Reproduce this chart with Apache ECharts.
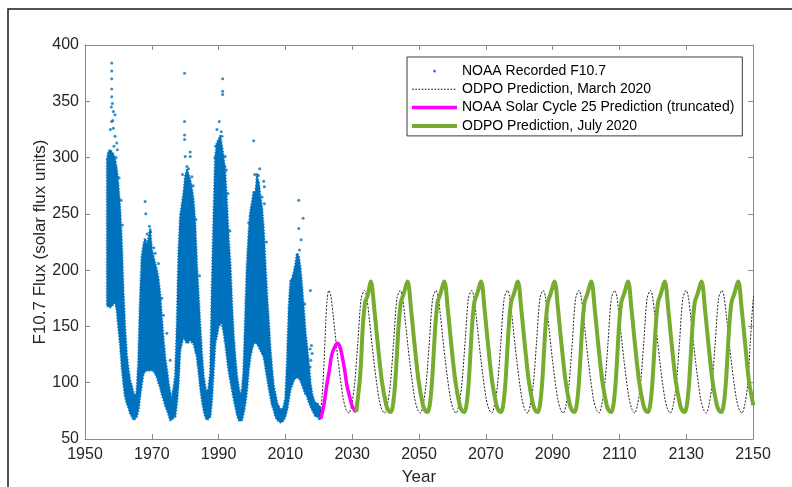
<!DOCTYPE html>
<html>
<head>
<meta charset="utf-8">
<script src="https://cdn.jsdelivr.net/npm/echarts@6/dist/echarts.min.js"></script>
<style>html,body{margin:0;padding:0;background:#fff}#c{width:792px;height:487px}</style>
</head>
<body>
<div id="c"></div>
<script>
// ---------------- data ----------------
const seriesNames = ['NOAA Recorded F10.7', 'ODPO Prediction, March 2020', 'NOAA Solar Cycle 25 Prediction (truncated)', 'ODPO Prediction, July 2020'];

// NOAA recorded daily F10.7: envelope of the dense point cloud
const recordedYears = [1956.6,1957,1957.5,1958,1958.5,1959,1959.5,1960,1960.5,1961,1961.5,1962,1962.5,1963,1963.5,1964,1964.5,1965,1965.5,1966,1966.5,1967,1967.5,1968,1968.5,1969,1969.5,1970,1970.5,1971,1971.5,1972,1972.5,1973,1973.5,1974,1974.5,1975,1975.5,1976,1976.5,1977,1977.5,1978,1978.5,1979,1979.5,1980,1980.5,1981,1981.5,1982,1982.5,1983,1983.5,1984,1984.5,1985,1985.5,1986,1986.5,1987,1987.5,1988,1988.5,1989,1989.5,1990,1990.5,1991,1991.5,1992,1992.5,1993,1993.5,1994,1994.5,1995,1995.5,1996,1996.5,1997,1997.5,1998,1998.5,1999,1999.5,2000,2000.5,2001,2001.5,2002,2002.5,2003,2003.5,2004,2004.5,2005,2005.5,2006,2006.5,2007,2007.5,2008,2008.5,2009,2009.5,2010,2010.5,2011,2011.5,2012,2012.5,2013,2013.5,2014,2014.5,2015,2015.5,2016,2016.5,2017,2017.5,2018,2018.5,2019,2019.5,2020.4];
const recordedHigh = [298,305,307,305,303,298,290,275,255,225,180,148,125,112,102,97,91,88,92,120,175,212,222,228,222,228,236,218,212,206,200,192,178,158,138,122,112,100,91,85,95,105,150,215,248,258,268,283,289,285,280,272,262,240,205,178,150,125,106,96,91,95,108,185,245,300,313,316,319,310,300,285,258,228,205,170,142,122,106,96,88,93,112,160,205,232,252,260,270,268,283,278,265,255,235,205,178,156,130,112,97,90,82,79,76,76,79,86,118,165,190,192,198,205,215,212,202,185,165,145,132,116,100,90,85,82,82,78];
const recordedLow = [168,168,167,168,170,172,165,150,135,114,100,88,82,78,73,70,67,68,70,76,88,99,108,110,111,111,111,111,111,108,105,100,96,90,85,80,76,72,67,67,69,70,82,99,129,135,141,138,135,136,138,136,135,129,123,110,96,85,76,70,67,68,70,85,111,135,142,150,152,153,145,135,123,111,102,94,86,79,72,67,66,67,73,82,94,111,123,130,135,135,135,132,129,126,123,114,105,96,88,80,76,70,67,66,65,65,67,70,76,85,94,98,102,104,105,104,102,98,94,90,88,83,79,76,73,70,70,67];

// isolated recorded points above the dense cloud
const outlierYears = [1958.0,1958.0,1958.0,1958.0,1958.0,1958.2,1958.5,1959.0,1958.0,1958.5,1959.0,1959.5,1958.7,1959.7,1957.6,1957.9,1958.3,1959.3,1960.2,1960.8,1961.2,
  1968.0,1968.2,1969.3,1969.7,1971.0,1972.0,1973.0,1973.5,1974.5,1975.5,1970.6,1968.6,
  1979.8,1979.8,1979.8,1979.8,1981.5,1981.5,1980.0,1980.5,1981.0,1982.0,1982.4,1979.2,1983.2,1984.3,
  1991.2,1991.2,1991.2,1989.5,1990.8,1991.0,1989.1,1992.0,1991.9,1992.3,1990.2,1992.8,1993.4,1988.9,
  2000.5,2001.5,2001.9,2003.5,2003.7,2003.0,2003.7,1999.0,1999.5,2002.3,2004.3,2000.8,
  2014.0,2014.0,2015.3,2014.7,2014.2,2017.5,2011.8,2017.8,2018.0,2012.4,2015.8,2017.4,2017.6,2017.4];
const outlierFlux = [384,377,370,361,354,348,341,338,332,326,319,313,310,307,325,345,333,300,282,262,240,
  261,250,239,234,215,206,175,160,144,120,220,232,
  375,332,320,316,305,301,301,292,290,283,275,285,245,195,
  370,359,356,325,323,319,310,301,292,289,332,268,235,300,
  315,285,284,279,274,265,259,242,248,290,225,285,
  262,237,246,227,218,182,191,133,126,195,170,130,120,114];

// ODPO prediction, March 2020 (thin dotted)
const marchYears = [2020.4,2021.0,2021.6,2022.1,2022.5,2023.0,
  2023.6,2024.3,2025.8,2027.3,2028.2,2029.0,2029.8,2030.7,2031.7,2032.7,2033.7,
  2034.3,2035.0,2036.5,2038.0,2038.9,2039.7,2040.5,2041.4,2042.4,2043.4,2044.4,
  2045.0,2045.7,2047.2,2048.7,2049.6,2050.4,2051.2,2052.1,2053.1,2054.1,2055.1,
  2055.7,2056.4,2057.9,2059.4,2060.3,2061.1,2061.9,2062.8,2063.8,2064.8,2065.8,
  2066.4,2067.1,2068.6,2070.1,2071.0,2071.8,2072.6,2073.5,2074.5,2075.5,2076.5,
  2077.1,2077.8,2079.3,2080.8,2081.7,2082.5,2083.3,2084.2,2085.2,2086.2,2087.2,
  2087.8,2088.5,2090.0,2091.5,2092.4,2093.2,2094.0,2094.9,2095.9,2096.9,2097.9,
  2098.5,2099.2,2100.7,2102.2,2103.1,2103.9,2104.7,2105.6,2106.6,2107.6,2108.6,
  2109.2,2109.9,2111.4,2112.9,2113.8,2114.6,2115.4,2116.3,2117.3,2118.3,2119.3,
  2119.9,2120.6,2122.1,2123.6,2124.5,2125.3,2126.1,2127.0,2128.0,2129.0,2130.0,
  2130.6,2131.3,2132.8,2134.3,2135.2,2136.0,2136.8,2137.7,2138.7,2139.7,2140.7,
  2141.3,2142.0,2143.5,2145.0,2145.9,2146.7,2147.5,2148.4,2149.2,2150.0,2150.6];
const marchFlux = [71,88,120,155,174,182,
  177,160,119,86,76,73,80,98,136,175,182,
  177,160,119,86,76,73,80,98,136,175,182,
  177,160,119,86,76,73,80,98,136,175,182,
  177,160,119,86,76,73,80,98,136,175,182,
  177,160,119,86,76,73,80,98,136,175,182,
  177,160,119,86,76,73,80,98,136,175,182,
  177,160,119,86,76,73,80,98,136,175,182,
  177,160,119,86,76,73,80,98,136,175,182,
  177,160,119,86,76,73,80,98,136,175,182,
  177,160,119,86,76,73,80,98,136,175,182,
  177,160,119,86,76,73,80,98,136,175,182,
  177,160,119,86,76,73,80,98,136,172,182];

// NOAA Solar Cycle 25 prediction (truncated)
const noaaYears = [2020.6,2021.5,2022.4,2023.2,2023.9,2024.8,2025.6,2026.3,2026.9,2027.7,2028.4,2029.2,2029.9,2030.6,2031.2];
const noaaFlux  = [68,80,98,112,125,132,135,132,125,112,98,88,80,76,74];

// ODPO prediction, July 2020 (thick green)
const julyYears = [2031.2,2032.4,2033.2,2033.9,2034.6,2035.6,
  2036.6,2037.6,2038.9,2040.2,2040.9,2041.6,2042.2,2042.9,2043.9,2044.6,2045.3,2046.6,
  2047.6,2048.6,2049.9,2051.2,2051.9,2052.6,2053.2,2053.9,2054.9,2055.6,2056.3,2057.6,
  2058.6,2059.6,2060.9,2062.2,2062.9,2063.6,2064.2,2064.9,2065.9,2066.6,2067.3,2068.6,
  2069.6,2070.6,2071.9,2073.2,2073.9,2074.6,2075.2,2075.9,2076.9,2077.6,2078.3,2079.6,
  2080.6,2081.6,2082.9,2084.2,2084.9,2085.6,2086.2,2086.9,2087.9,2088.6,2089.3,2090.6,
  2091.6,2092.6,2093.9,2095.2,2095.9,2096.6,2097.2,2097.9,2098.9,2099.6,2100.3,2101.6,
  2102.6,2103.6,2104.9,2106.2,2106.9,2107.6,2108.2,2108.9,2109.9,2110.6,2111.3,2112.6,
  2113.6,2114.6,2115.9,2117.2,2117.9,2118.6,2119.2,2119.9,2120.9,2121.6,2122.3,2123.6,
  2124.6,2125.6,2126.9,2128.2,2128.9,2129.6,2130.2,2130.9,2131.9,2132.6,2133.3,2134.6,
  2135.6,2136.6,2137.9,2139.2,2139.9,2140.6,2141.2,2141.9,2142.9,2143.6,2144.3,2145.6,
  2146.6,2147.6,2148.8,2150.1];
const julyFlux = [74,107,151,172,177,190,
  166,136,101,80,75,74,80,101,151,172,178,190,
  166,136,101,80,75,74,80,101,151,172,178,190,
  166,136,101,80,75,74,80,101,151,172,178,190,
  166,136,101,80,75,74,80,101,151,172,178,190,
  166,136,101,80,75,74,80,101,151,172,178,190,
  166,136,101,80,75,74,80,101,151,172,178,190,
  166,136,101,80,75,74,80,101,151,172,178,190,
  166,136,101,80,75,74,80,101,151,172,178,190,
  166,136,101,80,75,74,80,101,151,172,178,190,
  166,136,101,80,75,74,80,101,151,172,178,190,
  166,136,101,80];

const xRange = {min: 1950, max: 2150, interval: 20};
const yRange = {min: 50, max: 400, interval: 50};

// ---------------- chart ----------------
const zip = (xs, ys) => xs.map((x, i) => [x, ys[i]]);
const FONT = '"Liberation Sans", Arial, Helvetica, sans-serif';
const AXIS_COLOR = '#8a8a8a';
const TEXT_COLOR = '#262626';
const BLUE = '#0072BD';

// legend icon paths (bounding box 45 x 14)
const BOX = 'M0,0M45,0M45,14M0,14';
let dotIcon = BOX;
for (let x = 0; x < 44; x += 3.2) dotIcon += 'M' + x + ',6.5h1.8v1h-1.8z';

const chart = echarts.init(document.getElementById('c'), null, {renderer: 'canvas'});

const axisCommon = {
  type: 'value',
  axisLine: {show: true, lineStyle: {color: AXIS_COLOR, width: 1}},
  axisTick: {show: true, inside: true, length: 5, lineStyle: {color: AXIS_COLOR, width: 1}},
  splitLine: {show: false},
  axisLabel: {color: TEXT_COLOR, fontSize: 16, fontFamily: FONT, formatter: v => String(v)}
};

const option = {
  animation: false,
  backgroundColor: '#fff',
  textStyle: {fontFamily: FONT},
  grid: {left: 85, right: 39, top: 45, bottom: 48, containLabel: false, outerBoundsMode: 'none'},
  xAxis: [
    Object.assign({}, axisCommon, {
      position: 'bottom', min: xRange.min, max: xRange.max, interval: xRange.interval,
      axisLabel: Object.assign({}, axisCommon.axisLabel, {margin: 8}),
      name: 'Year', nameLocation: 'middle', nameGap: 30, nameMoveOverlap: false,
      nameTextStyle: {color: TEXT_COLOR, fontSize: 17, fontFamily: FONT}
    }),
    Object.assign({}, axisCommon, {
      position: 'top', min: xRange.min, max: xRange.max, interval: xRange.interval,
      axisLabel: {show: false}
    })
  ],
  yAxis: [
    Object.assign({}, axisCommon, {
      position: 'left', min: yRange.min, max: yRange.max, interval: yRange.interval,
      axisLabel: Object.assign({}, axisCommon.axisLabel, {margin: 6}),
      name: 'F10.7 Flux (solar flux units)', nameLocation: 'middle', nameGap: 36, nameRotate: 90,
      nameMoveOverlap: false,
      nameTextStyle: {color: TEXT_COLOR, fontSize: 17, fontFamily: FONT}
    }),
    Object.assign({}, axisCommon, {
      position: 'right', min: yRange.min, max: yRange.max, interval: yRange.interval,
      axisLabel: {show: false}
    })
  ],
  legend: {
    left: 407, top: 57, orient: 'vertical',
    itemWidth: 45, itemHeight: 14, itemGap: 4.3,
    padding: [7, 8, 3, 5],
    backgroundColor: '#fff', borderColor: '#3a3a3a', borderWidth: 1, borderRadius: 0,
    selectedMode: false,
    itemStyle: {borderWidth: 0},
    textStyle: {fontSize: 14, color: '#000', fontFamily: FONT},
    data: [
      {name: seriesNames[0], icon: 'path://' + BOX + 'M21,7a1.5,1.5 0 1,0 3,0a1.5,1.5 0 1,0 -3,0z'},
      {name: seriesNames[1], icon: 'path://' + dotIcon},
      {name: seriesNames[2], icon: 'path://' + BOX + 'M0,5.25h45v3.5h-45z'},
      {name: seriesNames[3], icon: 'path://' + BOX + 'M0,5h45v4h-45z'}
    ]
  },
  graphic: [{
    type: 'rect', z: -1, silent: true,
    shape: {x: 8, y: 9, width: 900, height: 600},
    style: {fill: 'none', stroke: '#1a1a1a', lineWidth: 1.5}
  }],
  series: [
    {
      name: seriesNames[0], type: 'custom', clip: true,
      data: recordedYears.map((y, i) => [y, recordedLow[i], recordedHigh[i]]),
      encode: {x: 0, y: [1, 2]},
      renderItem: function (params, api) {
        if (params.dataIndex !== 0) return null;
        const pts = [];
        for (let i = 0; i < recordedYears.length; i++) pts.push(api.coord([recordedYears[i], recordedHigh[i]]));
        for (let i = recordedYears.length - 1; i >= 0; i--) pts.push(api.coord([recordedYears[i], recordedLow[i]]));
        return {
          type: 'group',
          children: [
            {type: 'polygon', shape: {points: pts},
             style: {fill: BLUE, stroke: BLUE, lineWidth: 1, lineJoin: 'round'}},
            {type: 'polygon', shape: {points: pts},
             style: {fill: 'none', stroke: BLUE, lineWidth: 2.6, lineDash: [1.4, 1.6], lineJoin: 'round', opacity: 0.85}}
          ]
        };
      },
      z: 1
    },
    {
      name: seriesNames[0], type: 'scatter',
      data: zip(outlierYears, outlierFlux),
      symbol: 'circle', symbolSize: 3,
      itemStyle: {color: BLUE},
      z: 2
    },
    {
      name: seriesNames[1], type: 'line',
      data: zip(marchYears, marchFlux),
      smooth: 0.3, showSymbol: false, symbol: 'none',
      lineStyle: {color: '#222', width: 1, type: [2, 1.5]},
      itemStyle: {color: '#222'},
      z: 3
    },
    {
      name: seriesNames[2], type: 'line',
      data: zip(noaaYears, noaaFlux),
      smooth: 0.4, showSymbol: false, symbol: 'none',
      lineStyle: {color: '#FF00FF', width: 3.5},
      itemStyle: {color: '#FF00FF'},
      z: 4
    },
    {
      name: seriesNames[3], type: 'line',
      data: zip(julyYears, julyFlux),
      smooth: 0.3, showSymbol: false, symbol: 'none',
      lineStyle: {color: '#77AC30', width: 4},
      itemStyle: {color: '#77AC30'},
      z: 5
    }
  ]
};
chart.setOption(option);
</script>
</body>
</html>
